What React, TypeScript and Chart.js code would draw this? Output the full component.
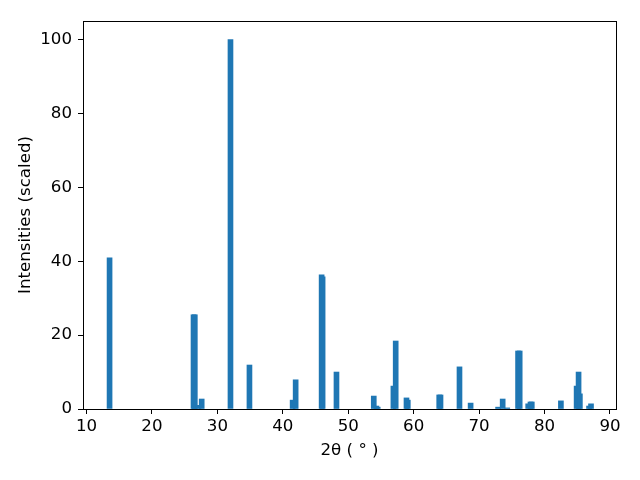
import React, { useEffect, useRef } from "react";
import { Chart, registerables } from "chart.js";

Chart.register(...registerables);

const twoTheta = [
  13.52, 26.35, 26.55, 27.1, 27.6, 32.0, 34.9, 41.5, 41.96, 45.93, 46.08, 48.2,
  53.9, 54.3, 54.5, 56.9, 57.25, 58.9, 59.1, 63.9, 64.1, 67.0, 68.7, 72.9, 73.6,
  74.3, 75.95, 76.2, 77.5, 77.85, 78.05, 82.5, 84.9, 85.2, 85.4, 86.8, 87.1,
];
const intensities = [
  40.9, 25.5, 25.5, 1.0, 2.7, 100, 11.9, 2.4, 7.9, 36.3, 35.8, 10.0,
  3.5, 0.8, 0.5, 6.2, 18.4, 3.0, 2.4, 3.8, 3.8, 11.4, 1.6, 0.5, 2.7,
  0.3, 15.7, 15.7, 1.4, 1.9, 1.9, 2.2, 6.2, 10.0, 4.1, 0.8, 1.4,
];
const xTicks = [10, 20, 30, 40, 50, 60, 70, 80, 90];
const yTicks = [0, 20, 40, 60, 80, 100];

const font = { family: "'DejaVu Sans', sans-serif", size: 16.67 };

const frame = {
  id: "frame",
  afterDraw(chart: any) {
    const { ctx, chartArea } = chart;
    ctx.save();
    ctx.strokeStyle = "#000";
    ctx.lineWidth = 1;
    ctx.strokeRect(
      Math.round(chartArea.left) + 0.5,
      Math.round(chartArea.top) + 0.5,
      Math.round(chartArea.right - chartArea.left),
      Math.round(chartArea.bottom - chartArea.top)
    );
    ctx.restore();
  },
};

export default function App() {
  const ref = useRef<HTMLCanvasElement>(null);
  useEffect(() => {
    const data = twoTheta.map((x, i) => ({ x, y: intensities[i] }));
    const chart = new Chart(ref.current!, {
      type: "bar",
      data: {
        datasets: [
          {
            data,
            backgroundColor: "#1f77b4",
            borderWidth: 0,
            barThickness: 5,
          } as any,
        ],
      },
      options: {
        animation: false,
        responsive: false,
        layout: { padding: { top: 21, right: 24, left: 0, bottom: 0 } },
        plugins: { legend: { display: false }, tooltip: { enabled: false } },
        scales: {
          x: {
            type: "linear",
            offset: false,
            min: 9.46,
            max: 90.92,
            afterBuildTicks: (axis: any) => {
              axis.ticks = xTicks.map((v) => ({ value: v }));
            },
            afterFit: (scale: any) => {
              scale.height = 71;
            },
            grid: {
              display: true,
              offset: false,
              drawOnChartArea: false,
              drawTicks: true,
              tickLength: 5,
              color: "#000",
            },
            border: { display: false },
            ticks: { color: "#000", font, padding: 3, maxRotation: 0, autoSkip: false },
            title: {
              display: true,
              text: "2θ ( ° )",
              color: "#000",
              font,
              padding: { top: 0, bottom: 19 },
            },
          },
          y: {
            type: "linear",
            min: 0,
            max: 105,
            afterBuildTicks: (axis: any) => {
              axis.ticks = yTicks.map((v) => ({ value: v }));
            },
            afterFit: (scale: any) => {
              scale.width = 83;
            },
            grid: {
              display: true,
              offset: false,
              drawOnChartArea: false,
              drawTicks: true,
              tickLength: 5,
              color: "#000",
            },
            border: { display: false },
            ticks: { color: "#000", font, padding: 6 },
            title: {
              display: true,
              text: "Intensities (scaled)",
              color: "#000",
              font,
              padding: { top: 16, bottom: 0 },
            },
          },
        },
      },
      plugins: [frame],
    });
    return () => chart.destroy();
  }, []);
  return (
    <div style={{ position: "fixed", left: 0, top: 0, width: 640, height: 480, background: "#fff" }}>
      <canvas ref={ref} width={640} height={480} />
    </div>
  );
}
